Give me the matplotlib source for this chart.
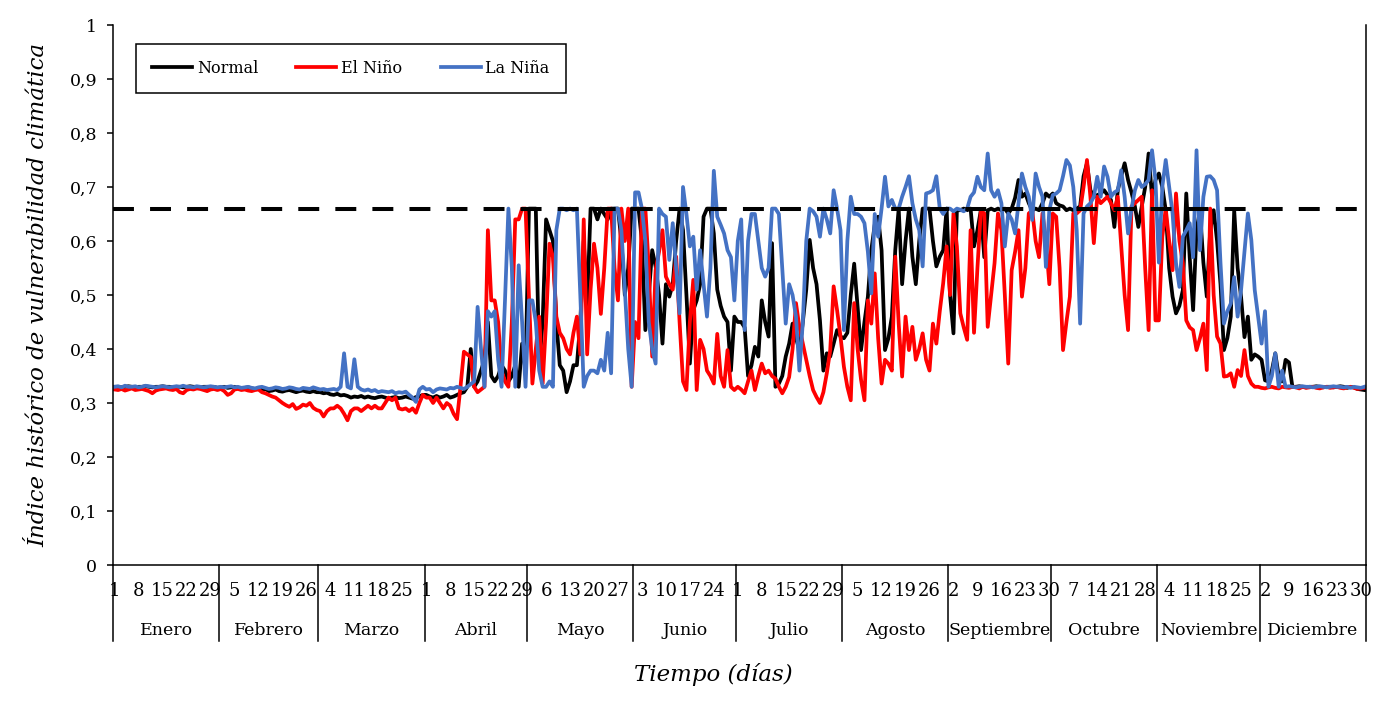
import numpy as np
import matplotlib
matplotlib.use("Agg")
import matplotlib.pyplot as plt
from matplotlib import transforms

# --- data (daily values, leap year) ---
months = ["Enero", "Febrero", "Marzo", "Abril", "Mayo", "Junio", "Julio",
          "Agosto", "Septiembre", "Octubre", "Noviembre", "Diciembre"]
days_in_month = [31, 29, 31, 30, 31, 30, 31, 31, 30, 31, 30, 31]
tick_step = 7
umbral = 0.66

normal = [
    # ene
    0.33, 0.33, 0.329, 0.33, 0.331, 0.33, 0.329, 0.33, 0.33, 0.331, 0.33, 0.329, 0.33, 0.33, 0.331, 0.33,
    0.33, 0.329, 0.33, 0.33, 0.329, 0.33, 0.331, 0.33, 0.33, 0.329, 0.33, 0.33, 0.329, 0.33, 0.328,
    # feb
    0.329, 0.33, 0.328, 0.329, 0.33, 0.328, 0.327, 0.328, 0.329, 0.327, 0.326, 0.327, 0.325, 0.326, 0.322,
    0.323, 0.325, 0.322, 0.321, 0.323, 0.324, 0.322, 0.32, 0.322, 0.323, 0.321, 0.32, 0.322, 0.32,
    # mar
    0.32, 0.318, 0.319, 0.316, 0.315, 0.317, 0.314, 0.315, 0.313, 0.31, 0.312, 0.311, 0.313, 0.31, 0.312,
    0.31, 0.309, 0.311, 0.312, 0.31, 0.308, 0.31, 0.311, 0.309, 0.31, 0.312, 0.31, 0.308, 0.311, 0.312, 0.315,
    # abr
    0.315, 0.312, 0.31, 0.313, 0.31, 0.312, 0.315, 0.31, 0.312, 0.315, 0.318, 0.32, 0.33, 0.40, 0.33,
    0.34, 0.36, 0.38, 0.45, 0.35, 0.34, 0.35, 0.37, 0.36, 0.34, 0.35, 0.37, 0.33, 0.41, 0.36,
    # may
    0.66, 0.66, 0.66, 0.37, 0.45, 0.64, 0.62, 0.60, 0.45, 0.37, 0.36, 0.32, 0.34, 0.37, 0.37, 0.45,
    0.60, 0.48, 0.66, 0.66, 0.64, 0.66, 0.65, 0.64, 0.66, 0.66, 0.66, 0.60, 0.50, 0.55, 0.66,
    # jun
    0.66, 0.66, 0.60, 0.435, 0.50, 0.583, 0.553, 0.50, 0.41, 0.52, 0.497, 0.52, 0.60, 0.66, 0.62,
    0.50, 0.373, 0.472, 0.49, 0.52, 0.645, 0.66, 0.66, 0.614, 0.51, 0.48, 0.46, 0.45, 0.36, 0.46,
    # jul
    0.45, 0.45, 0.44, 0.35, 0.37, 0.404, 0.386, 0.49, 0.45, 0.423, 0.596, 0.33, 0.336, 0.35, 0.386, 0.41,
    0.447, 0.42, 0.398, 0.45, 0.51, 0.602, 0.55, 0.52, 0.453, 0.36, 0.392, 0.386, 0.41, 0.435, 0.423,
    # ago
    0.42, 0.43, 0.50, 0.558, 0.478, 0.398, 0.45, 0.497, 0.583, 0.63, 0.645, 0.583, 0.398, 0.42, 0.46, 0.583,
    0.66, 0.52, 0.60, 0.66, 0.571, 0.52, 0.60, 0.66, 0.66, 0.66, 0.60, 0.553, 0.571, 0.583, 0.66,
    # sep
    0.50, 0.429, 0.657, 0.657, 0.66, 0.657, 0.66, 0.59, 0.62, 0.657, 0.57, 0.657, 0.66, 0.657, 0.66,
    0.657, 0.66, 0.651, 0.66, 0.68, 0.713, 0.682, 0.688, 0.67, 0.657, 0.66, 0.657, 0.67, 0.688, 0.682,
    # oct
    0.688, 0.67, 0.666, 0.664, 0.657, 0.66, 0.657, 0.66, 0.664, 0.72, 0.744, 0.694, 0.682, 0.685, 0.688, 0.694,
    0.685, 0.676, 0.626, 0.694, 0.72, 0.744, 0.713, 0.69, 0.664, 0.626, 0.664, 0.70, 0.762, 0.682, 0.713,
    # nov
    0.725, 0.70, 0.657, 0.55, 0.497, 0.466, 0.48, 0.509, 0.688, 0.57, 0.472, 0.62, 0.657, 0.56, 0.497,
    0.62, 0.657, 0.60, 0.52, 0.398, 0.42, 0.46, 0.657, 0.55, 0.497, 0.422, 0.46, 0.38, 0.39, 0.386,
    # dic
    0.38, 0.342, 0.34, 0.36, 0.392, 0.35, 0.34, 0.38, 0.375, 0.33, 0.33, 0.331, 0.33, 0.329, 0.33, 0.33,
    0.331, 0.33, 0.329, 0.33, 0.33, 0.329, 0.33, 0.331, 0.33, 0.328, 0.33, 0.329, 0.326, 0.325, 0.324,
]

el_nino = [
    # ene
    0.325, 0.324, 0.326, 0.323, 0.325, 0.327, 0.324, 0.325, 0.326, 0.324, 0.322, 0.318, 0.323, 0.325, 0.326,
    0.327, 0.325, 0.324, 0.326, 0.32, 0.318, 0.324, 0.326, 0.325, 0.327, 0.326, 0.324, 0.322, 0.325, 0.326, 0.324,
    # feb
    0.326, 0.322, 0.315, 0.318, 0.325, 0.326, 0.324, 0.325, 0.323, 0.322, 0.324, 0.325, 0.32, 0.318, 0.315,
    0.312, 0.31, 0.305, 0.30, 0.296, 0.293, 0.298, 0.289, 0.292, 0.297, 0.295, 0.30, 0.291, 0.287,
    # mar
    0.285, 0.275, 0.285, 0.29, 0.29, 0.295, 0.29, 0.28, 0.268, 0.285, 0.29, 0.29, 0.285, 0.29, 0.295, 0.29,
    0.295, 0.29, 0.29, 0.30, 0.31, 0.305, 0.31, 0.29, 0.288, 0.29, 0.285, 0.29, 0.282, 0.30, 0.315,
    # abr
    0.31, 0.31, 0.30, 0.31, 0.30, 0.29, 0.30, 0.295, 0.28, 0.27, 0.33, 0.395, 0.39, 0.385, 0.33,
    0.32, 0.325, 0.33, 0.62, 0.49, 0.49, 0.45, 0.36, 0.34, 0.33, 0.45, 0.64, 0.64, 0.66, 0.66,
    # may
    0.50, 0.336, 0.40, 0.46, 0.336, 0.45, 0.595, 0.57, 0.46, 0.43, 0.42, 0.40, 0.39, 0.43, 0.46, 0.39,
    0.64, 0.39, 0.51, 0.595, 0.55, 0.465, 0.55, 0.66, 0.66, 0.55, 0.49, 0.66, 0.60, 0.66, 0.33,
    # jun
    0.45, 0.42, 0.66, 0.66, 0.55, 0.386, 0.546, 0.58, 0.62, 0.534, 0.52, 0.51, 0.571, 0.45, 0.34,
    0.324, 0.45, 0.528, 0.324, 0.417, 0.40, 0.36, 0.35, 0.336, 0.428, 0.35, 0.33, 0.398, 0.33, 0.324,
    # jul
    0.33, 0.325, 0.318, 0.34, 0.36, 0.324, 0.35, 0.373, 0.355, 0.36, 0.35, 0.345, 0.33, 0.318, 0.33, 0.348,
    0.40, 0.485, 0.44, 0.41, 0.38, 0.35, 0.324, 0.311, 0.30, 0.32, 0.355, 0.398, 0.516, 0.472, 0.423,
    # ago
    0.367, 0.33, 0.305, 0.485, 0.40, 0.343, 0.305, 0.49, 0.447, 0.54, 0.42, 0.336, 0.38, 0.373, 0.36, 0.571,
    0.447, 0.349, 0.46, 0.398, 0.441, 0.38, 0.40, 0.429, 0.38, 0.36, 0.447, 0.41, 0.47, 0.522, 0.59,
    # sep
    0.50, 0.651, 0.59, 0.466, 0.44, 0.417, 0.62, 0.43, 0.55, 0.657, 0.651, 0.441, 0.50, 0.559, 0.651,
    0.62, 0.50, 0.373, 0.546, 0.58, 0.62, 0.497, 0.55, 0.651, 0.657, 0.60, 0.57, 0.651, 0.60, 0.52,
    # oct
    0.651, 0.645, 0.55, 0.398, 0.45, 0.497, 0.651, 0.651, 0.657, 0.70, 0.75, 0.682, 0.596, 0.682, 0.67, 0.676,
    0.682, 0.67, 0.657, 0.682, 0.59, 0.50, 0.435, 0.664, 0.67, 0.676, 0.682, 0.55, 0.435, 0.694, 0.453,
    # nov
    0.453, 0.608, 0.66, 0.60, 0.546, 0.688, 0.60, 0.559, 0.453, 0.44, 0.435, 0.398, 0.42, 0.447, 0.361,
    0.66, 0.50, 0.423, 0.41, 0.349, 0.35, 0.355, 0.33, 0.361, 0.35, 0.398, 0.35, 0.336, 0.33, 0.33,
    # dic
    0.328, 0.327, 0.329, 0.33, 0.328, 0.327, 0.33, 0.329, 0.328, 0.33, 0.329, 0.327, 0.33, 0.328, 0.329, 0.33,
    0.328, 0.327, 0.329, 0.33, 0.328, 0.329, 0.33, 0.328, 0.327, 0.329, 0.33, 0.328, 0.326, 0.327, 0.328,
]

la_nina = [
    # ene
    0.33, 0.331, 0.329, 0.332, 0.33, 0.33, 0.331, 0.329, 0.33, 0.332, 0.331, 0.33, 0.329, 0.33, 0.331, 0.33,
    0.329, 0.33, 0.331, 0.33, 0.332, 0.33, 0.33, 0.329, 0.331, 0.33, 0.329, 0.33, 0.331, 0.33, 0.329,
    # feb
    0.33, 0.329, 0.33, 0.331, 0.329, 0.33, 0.328, 0.329, 0.33, 0.328, 0.327, 0.329, 0.33, 0.328, 0.326,
    0.327, 0.329, 0.328, 0.326, 0.327, 0.329, 0.328, 0.326, 0.325, 0.328, 0.327, 0.326, 0.329, 0.327,
    # mar
    0.325, 0.326, 0.324, 0.325, 0.326, 0.324, 0.33, 0.392, 0.33, 0.327, 0.381, 0.33, 0.325, 0.323, 0.325, 0.322,
    0.324, 0.32, 0.322, 0.321, 0.32, 0.322, 0.318, 0.32, 0.319, 0.321, 0.315, 0.31, 0.302, 0.325, 0.33,
    # abr
    0.325, 0.326, 0.32, 0.325, 0.327, 0.326, 0.325, 0.328, 0.327, 0.33, 0.328, 0.326, 0.33, 0.335, 0.34,
    0.478, 0.40, 0.33, 0.47, 0.46, 0.47, 0.38, 0.33, 0.49, 0.66, 0.55, 0.33, 0.555, 0.45, 0.33,
    # may
    0.49, 0.49, 0.45, 0.36, 0.33, 0.33, 0.34, 0.33, 0.62, 0.66, 0.66, 0.657, 0.66, 0.657, 0.66, 0.50,
    0.33, 0.35, 0.36, 0.36, 0.355, 0.38, 0.36, 0.43, 0.355, 0.66, 0.66, 0.62, 0.51, 0.40, 0.33,
    # jun
    0.69, 0.69, 0.66, 0.60, 0.45, 0.40, 0.373, 0.66, 0.65, 0.645, 0.565, 0.633, 0.55, 0.466, 0.70,
    0.65, 0.59, 0.608, 0.51, 0.583, 0.52, 0.46, 0.55, 0.73, 0.645, 0.63, 0.614, 0.583, 0.57, 0.49,
    # jul
    0.60, 0.64, 0.435, 0.60, 0.65, 0.65, 0.60, 0.55, 0.534, 0.55, 0.66, 0.66, 0.65, 0.55, 0.447, 0.52,
    0.50, 0.46, 0.36, 0.45, 0.60, 0.66, 0.655, 0.645, 0.608, 0.66, 0.64, 0.614, 0.694, 0.66, 0.62,
    # ago
    0.435, 0.60, 0.682, 0.65, 0.65, 0.645, 0.633, 0.58, 0.503, 0.65, 0.608, 0.66, 0.719, 0.664, 0.676, 0.66,
    0.66, 0.682, 0.70, 0.72, 0.67, 0.64, 0.62, 0.553, 0.688, 0.69, 0.694, 0.72, 0.66, 0.65, 0.66,
    # sep
    0.66, 0.655, 0.66, 0.658, 0.655, 0.66, 0.682, 0.69, 0.719, 0.70, 0.694, 0.762, 0.694, 0.682, 0.694,
    0.67, 0.59, 0.651, 0.64, 0.614, 0.67, 0.725, 0.70, 0.682, 0.639, 0.725, 0.70, 0.682, 0.552, 0.657,
    # oct
    0.685, 0.688, 0.694, 0.72, 0.75, 0.74, 0.70, 0.62, 0.447, 0.651, 0.664, 0.67, 0.682, 0.719, 0.682, 0.738,
    0.719, 0.682, 0.69, 0.694, 0.731, 0.682, 0.614, 0.66, 0.694, 0.713, 0.70, 0.705, 0.713, 0.768, 0.713,
    # nov
    0.56, 0.70, 0.75, 0.70, 0.651, 0.559, 0.515, 0.608, 0.62, 0.633, 0.57, 0.768, 0.583, 0.682, 0.719,
    0.72, 0.713, 0.694, 0.559, 0.447, 0.47, 0.484, 0.533, 0.46, 0.509, 0.58, 0.651, 0.602, 0.509, 0.46,
    # dic
    0.41, 0.47, 0.33, 0.35, 0.392, 0.33, 0.36, 0.33, 0.331, 0.33, 0.329, 0.33, 0.331, 0.33, 0.33, 0.329,
    0.33, 0.331, 0.33, 0.329, 0.33, 0.331, 0.33, 0.33, 0.329, 0.33, 0.328, 0.33, 0.329, 0.328, 0.33,
]

y_ticks = [0, 0.1, 0.2, 0.3, 0.4, 0.5, 0.6, 0.7, 0.8, 0.9, 1.0]
y_tick_labels = ["0", "0,1", "0,2", "0,3", "0,4", "0,5", "0,6", "0,7", "0,8", "0,9", "1"]

n_days = sum(days_in_month)
assert len(normal) == len(el_nino) == len(la_nina) == n_days, (len(normal), len(el_nino), len(la_nina))

plt.rcParams["font.family"] = ["DejaVu Serif"]

fig = plt.figure(figsize=(13.76, 7.01), dpi=100)
ax = fig.add_axes([113 / 1376, 1 - 565 / 701, 1253 / 1376, 540 / 701])

x = np.arange(n_days)
ax.plot(x, normal, color="black", lw=2.7, label="Normal")
ax.plot(x, el_nino, color="#FF0000", lw=2.7, label="El Niño")
ax.plot(x, la_nina, color="#4472C4", lw=2.7, label="La Niña")
ax.axhline(umbral, color="black", lw=2.9, ls=(0, (5.2, 4)))

ax.set_xlim(-0.5, n_days - 0.5)
ax.set_ylim(0, 1)
ax.set_yticks(y_ticks, y_tick_labels)
ax.tick_params(axis="y", direction="out", length=4.5, width=1.1, pad=7, labelsize=12.5)

# day-of-month labels every 7 days
starts = np.concatenate([[0], np.cumsum(days_in_month)[:-1]])
day_of_month = np.concatenate([np.arange(1, n + 1) for n in days_in_month])
ax.set_xticks(x[::tick_step], [str(d) for d in day_of_month[::tick_step]])
ax.tick_params(axis="x", length=0, pad=12, labelsize=13)

# month group row
trans = transforms.blended_transform_factory(ax.transData, ax.transAxes)
for b in list(starts) + [n_days]:
    ax.plot([b - 0.5, b - 0.5], [0, -0.141], transform=trans, color="black", lw=1.1, clip_on=False)
for s, n, m in zip(starts, days_in_month, months):
    ax.text(s + n / 2 - 0.5, -0.122, m, transform=trans, ha="center", va="center", fontsize=12.5)

for side in ["left", "bottom", "right"]:
    ax.spines[side].set_linewidth(1.1)
ax.spines["top"].set_visible(False)

leg = ax.legend(loc="upper left", bbox_to_anchor=((136 - 113) / 1253, (565 - 44) / 540), ncol=3,
                fontsize=11.5, frameon=True, fancybox=False, edgecolor="black", framealpha=1,
                handlelength=2.5, handletextpad=0.3, columnspacing=2.4, borderpad=1.0, borderaxespad=0)
leg.get_frame().set_linewidth(1.1)

fig.text(713 / 1376, 1 - 674 / 701, "Tiempo (días)", ha="center", va="center", fontsize=16.5, style="italic")
fig.text(38 / 1376, 1 - 295 / 701, "Índice histórico de vulnerabilidad climática", rotation=90,
         ha="center", va="center", fontsize=16.5, style="italic")

fig.savefig("out.png", dpi=100)
